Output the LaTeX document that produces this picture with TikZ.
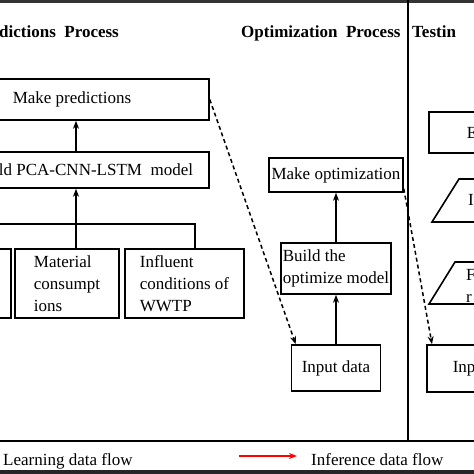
\documentclass[tikz,border=0pt]{standalone}
\usepackage{fontspec}
\setmainfont{Liberation Serif}
\usetikzlibrary{arrows.meta}

\begin{document}
\begin{tikzpicture}[x=1pt,y=-1pt,
  box/.style={draw,line width=1.6pt,inner sep=0pt,font=\fontsize{17}{22}\selectfont},
  txt/.style={inner sep=0pt,font=\fontsize{17}{22}\selectfont},
  head/.style={inner sep=0pt,font=\fontsize{17}{22}\selectfont\bfseries},
  flow/.style={line width=1.6pt,-{Stealth[length=8pt,width=6pt]}},
  infer/.style={line width=1.5pt,dash pattern=on 4pt off 3pt,-{Stealth[length=8pt,width=6pt]}},
  io/.style={draw,line width=1.6pt,line join=miter}]
  \useasboundingbox (0,0) rectangle (474,474);
  \clip (0,0) rectangle (474,474);
  % frame and column divider
  \fill[black!80] (0,0) rectangle (474,2.5);
  \fill[black!85] (0,470) rectangle (474,474);
  \draw[line width=1.5pt] (0,441) -- (474,441);
  \draw[line width=1.6pt] (408,0) -- (408,441);
  % column headings
  \node[head,anchor=base west] (predhead) at (-1,37) {dictions\ \ Process};
  \node[head,anchor=base west] (opthead) at (241,37) {Optimization\ \ Process};
  \node[head,anchor=base west] (testhead) at (412,37) {Testin};
  % prediction column
  \node[box,minimum width=274pt,minimum height=41pt] (pred) at (72,99.5) {Make predictions};
  \node[box,minimum width=226pt,minimum height=36pt] (model) at (96,170) {ld PCA-CNN-LSTM\ \ model};
  \node[box,minimum width=91pt,minimum height=69pt] (leftin) at (-34.5,283.5) {};
  \node[box,minimum width=104pt,minimum height=69pt,align=left] (material) at (67,283.5) {Material\\consumpt\\ions};
  \node[box,minimum width=119pt,minimum height=69pt,align=left] (influent) at (184.5,283.5) {Influent\\conditions of\\WWTP};
  \coordinate (hub) at (76,224);
  \coordinate (hubr) at (195,224);
  \draw[line width=1.6pt] (leftin.north) |- (hubr) -- (hubr |- influent.north);
  \draw[line width=1.6pt] (hub) -- (hub |- material.north);
  \draw[flow] (hub) -- (hub |- model.south);
  \draw[flow] (hub |- model.north) -- (hub |- pred.south);
  % optimization column
  \node[box,minimum width=134pt,minimum height=34pt] (opt) at (336,175) {Make optimization};
  \node[box,minimum width=110pt,minimum height=51pt,align=left] (build) at (336,268.5) {Build the\\optimize model};
  \node[box,minimum width=89pt,minimum height=46pt] (inopt) at (336,368) {Input data};
  \draw[flow] (inopt) -- (build);
  \draw[flow] (build) -- (opt);
  % testing column
  \node[box,anchor=west,inner xsep=38pt,minimum height=41pt] (evalbox) at (428,132.5) {E};
  \draw[io] (432,222) -- (459,179) -- (530,179) -- (503,222) -- cycle;
  \node[txt] (traponetxt) at (471,200) {I};
  \draw[io] (429,304) -- (455,262) -- (530,262) -- (504,304) -- cycle;
  \node[txt,anchor=west,align=left] (traptwotxt) at (466,286) {F\\r};
  \node[box,anchor=west,inner xsep=26pt,minimum height=47pt] (intest) at (426,368.5) {Inp};
  % inference flow
  \draw[infer] (pred.east) -- ([xshift=5pt]inopt.north west);
  \draw[infer] ([yshift=4pt]opt.south east) -- ([xshift=6pt]intest.north west);
  % legend
  \coordinate (redstart) at (239,456);
  \coordinate (redend) at (297,456);
  \draw[red,line width=1.6pt,-{Stealth[length=8pt,width=6pt]}] (redstart) -- (redend);
  \node[txt,anchor=base west] (learnlbl) at (3,465) {Learning data flow};
  \node[txt,anchor=base west] (inferlbl) at (311,465) {Inference data flow};
\end{tikzpicture}
\end{document}
